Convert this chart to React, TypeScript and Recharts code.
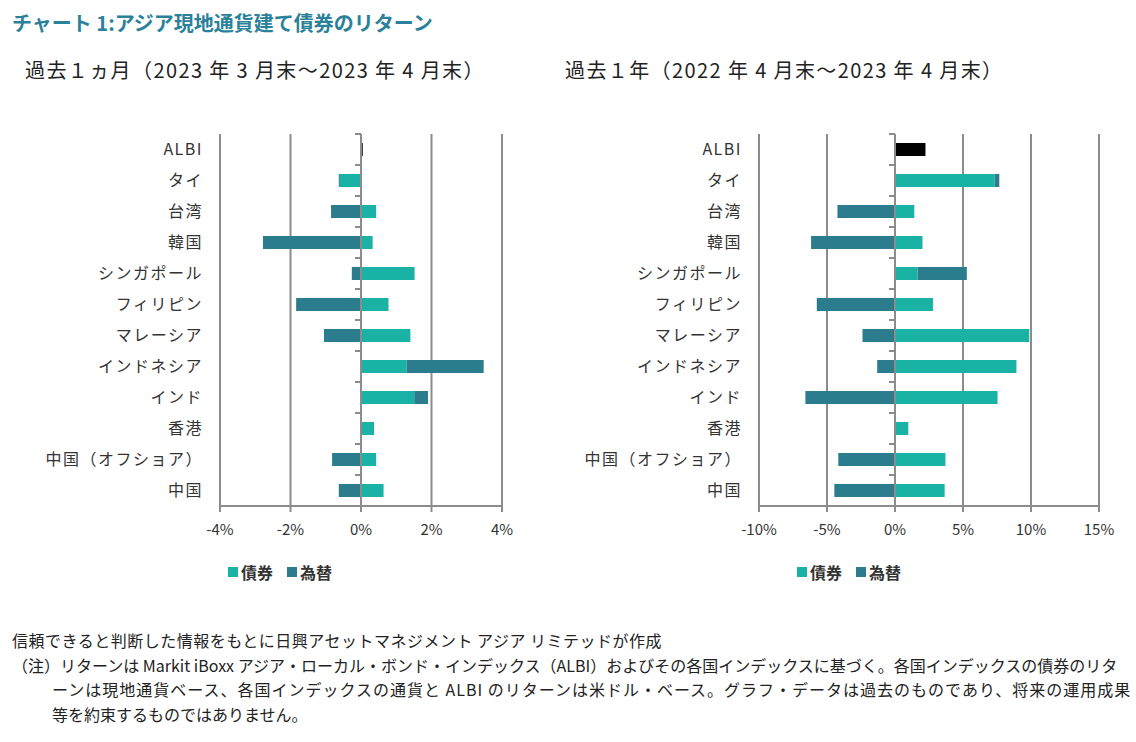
import { Bar, BarChart, CartesianGrid, Legend, ReferenceLine, XAxis, YAxis } from "recharts";

const categories = [
  "ALBI",
  "タイ",
  "台湾",
  "韓国",
  "シンガポール",
  "フィリピン",
  "マレーシア",
  "インドネシア",
  "インド",
  "香港",
  "中国（オフショア）",
  "中国",
];

// 過去1ヵ月 (%)
const monthBond = [null, -0.6, 0.43, 0.33, 1.52, 0.78, 1.4, 1.29, 1.51, 0.37, 0.43, 0.64];
const monthFx = [null, -0.03, -0.85, -2.78, -0.26, -1.84, -1.05, 2.19, 0.39, 0, -0.82, -0.63];
const monthAlbi = 0.05;
const monthTicks = [-4, -2, 0, 2, 4];

// 過去1年 (%)
const yearBond = [null, 7.33, 1.42, 2.02, 1.66, 2.79, 9.87, 8.93, 7.54, 0.98, 3.71, 3.65];
const yearFx = [null, 0.34, -4.23, -6.17, 3.62, -5.75, -2.39, -1.31, -6.59, 0, -4.17, -4.46];
const yearAlbi = 2.24;
const yearTicks = [-10, -5, 0, 5, 10, 15];

const BOND = "#19b2a5";
const FX = "#2b7d8e";
const GRID = "#8c8c8c";
const FONT = "'Noto Sans CJK JP', 'Noto Sans', sans-serif";

function buildRows(bond: (number | null)[], fx: (number | null)[], albi: number) {
  return categories.map((name, i) => ({
    name,
    bond: bond[i],
    fx: fx[i],
    albi: i === 0 ? albi : null,
  }));
}

function ZeroLine(props: any) {
  const { x1, y1, y2 } = props;
  const top = Math.min(y1, y2);
  const bottom = Math.max(y1, y2);
  const step = (bottom - top) / categories.length;
  return (
    <g>
      <line x1={x1} x2={x1} y1={top} y2={bottom} stroke={GRID} strokeWidth={2} />
      {categories.map((c, i) => (
        <line key={c} x1={x1 - 6} x2={x1} y1={top + i * step} y2={top + i * step} stroke={GRID} strokeWidth={2} />
      ))}
    </g>
  );
}

function LegendBox({ pad }: { pad: number }) {
  const item = (color: string, label: string) => (
    <span style={{ display: "inline-flex", alignItems: "center", marginRight: 14 }}>
      <span style={{ width: 10, height: 10, background: color, display: "inline-block", marginRight: 3 }} />
      <span style={{ fontSize: 16, color: "#333", fontWeight: 700 }}>{label}</span>
    </span>
  );
  return (
    <div style={{ paddingLeft: pad, paddingTop: 10, fontFamily: FONT, lineHeight: "20px" }}>
      {item(BOND, "債券")}
      {item(FX, "為替")}
    </div>
  );
}

function ReturnChart({
  rows,
  ticks,
  width,
  right,
  legendPad,
}: {
  rows: ReturnType<typeof buildRows>;
  ticks: number[];
  width: number;
  right: number;
  legendPad: number;
}) {
  return (
    <BarChart
      width={width}
      height={500}
      data={rows}
      layout="vertical"
      stackOffset="sign"
      barSize={13}
      margin={{ top: 34, right, left: 0, bottom: 10 }}
    >
      <CartesianGrid horizontal={false} stroke={GRID} strokeWidth={2} />
      <XAxis
        type="number"
        domain={[ticks[0], ticks[ticks.length - 1]]}
        ticks={ticks}
        allowDataOverflow
        tickFormatter={(v) => `${v}%`}
        axisLine={{ stroke: GRID, strokeWidth: 2 }}
        tickLine={{ stroke: GRID, strokeWidth: 2 }}
        tickSize={6}
        tickMargin={12}
        height={44}
        tick={{ fill: "#333", fontSize: 15, fontFamily: FONT }}
      />
      <YAxis
        type="category"
        dataKey="name"
        width={210}
        axisLine={false}
        tickLine={false}
        tickSize={0}
        tickMargin={17}
        interval={0}
        tick={{ fill: "#333", fontSize: 16, fontFamily: FONT, letterSpacing: 1.5 }}
      />
      <ReferenceLine x={0} shape={ZeroLine} />
      <Bar dataKey="bond" name="債券" stackId="a" fill={BOND} isAnimationActive={false} />
      <Bar dataKey="fx" name="為替" stackId="a" fill={FX} isAnimationActive={false} />
      <Bar dataKey="albi" name="ALBI" stackId="a" fill="#000" legendType="none" isAnimationActive={false} />
      <Legend verticalAlign="bottom" align="left" height={40} content={() => <LegendBox pad={legendPad} />} />
    </BarChart>
  );
}

export default function App() {
  const monthRows = buildRows(monthBond, monthFx, monthAlbi);
  const yearRows = buildRows(yearBond, yearFx, yearAlbi);
  const subtitle = { position: "absolute" as const, top: 55, fontSize: 20, letterSpacing: 1.4, color: "#222", whiteSpace: "nowrap" as const };
  return (
    <div
      style={{
        position: "absolute",
        left: 0,
        top: 0,
        width: 1136,
        height: 742,
        background: "#fff",
        fontFamily: FONT,
        overflow: "hidden",
      }}
    >
      <div style={{ position: "absolute", left: 12, top: 8, fontSize: 20, fontWeight: 700, color: "#2b8199", whiteSpace: "nowrap" }}>
        チャート 1:アジア現地通貨建て債券のリターン
      </div>
      <div style={{ ...subtitle, left: 25 }}>過去１ヵ月（2023 年 3 月末～2023 年 4 月末）</div>
      <div style={{ ...subtitle, left: 565 }}>過去１年（2022 年 4 月末～2023 年 4 月末）</div>
      <div style={{ position: "absolute", left: 10, top: 100 }}>
        <ReturnChart rows={monthRows} ticks={monthTicks} width={510} right={18} legendPad={218} />
      </div>
      <div style={{ position: "absolute", left: 549, top: 100 }}>
        <ReturnChart rows={yearRows} ticks={yearTicks} width={570} right={20} legendPad={248} />
      </div>
      <div style={{ position: "absolute", left: 12, top: 628, fontSize: 16, color: "#222", lineHeight: "24.7px", whiteSpace: "nowrap" }}>
        <div style={{ letterSpacing: 0.5 }}>信頼できると判断した情報をもとに日興アセットマネジメント アジア リミテッドが作成</div>
        <div>
          （注）リターンは Markit iBoxx アジア・ローカル・ボンド・インデックス（ALBI）およびその各国インデックスに基づく。各国インデックスの債券のリタ
        </div>
        <div style={{ paddingLeft: 40, letterSpacing: 1.0 }}>
          ーンは現地通貨ベース、各国インデックスの通貨と ALBI のリターンは米ドル・ベース。グラフ・データは過去のものであり、将来の運用成果
        </div>
        <div style={{ paddingLeft: 40 }}>等を約束するものではありません。</div>
      </div>
    </div>
  );
}
